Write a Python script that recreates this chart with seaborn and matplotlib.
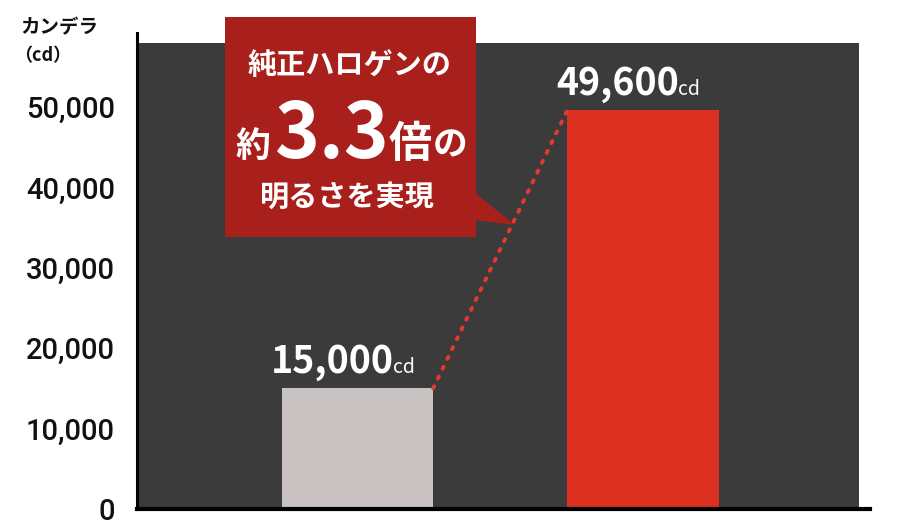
import matplotlib
matplotlib.use("Agg")
import matplotlib.pyplot as plt
import seaborn as sns
from matplotlib.patches import Rectangle, Polygon
from matplotlib.ticker import FuncFormatter

# data
categories = ["純正ハロゲン", "LED"]
candela = [15000, 49600]
value_labels = ["15,000", "49,600"]
yticks = [0, 10000, 20000, 30000, 40000, 50000]

DARK = "#3b3b3b"
GRAY = "#c9c2c2"
RED = "#dc3020"
BOX_RED = "#a81f1b"
JP = ["Noto Sans CJK JP", "DejaVu Sans"]

sns.set_theme(style="white")
plt.rcParams["font.family"] = JP

W, H = 900, 525
fig = plt.figure(figsize=(W / 100, H / 100), dpi=100)
ax = fig.add_axes([137 / W, 1 - 509 / H, (870 - 137) / W, (509 - 33) / H])
ax.set_facecolor("white")

# dark panel behind the bars
ax.axhspan(0, 58000, xmin=0, xmax=(859 - 137) / (870 - 137), color=DARK, zorder=0, lw=0)

bw = 0.53
sns.barplot(x=categories, y=candela, hue=categories, palette=[GRAY, RED],
            width=bw, saturation=1, legend=False, ax=ax, zorder=2, linewidth=0)
ax.set_xlim(-0.772, 1.795)
ax.set_ylim(0, 59200)

# dotted connector between bar tops
ax.plot([0 + bw / 2, 1 - bw / 2], candela, color="#e4392c", lw=2.8,
        linestyle=(0, (0.6, 2.2)), dash_capstyle="round", zorder=3)

ax.set_yticks(yticks)
ax.yaxis.set_major_formatter(FuncFormatter(lambda v, p: f"{int(v):,}"))
ax.tick_params(axis="y", length=0, pad=16, labelsize=21, labelcolor="#111111")
for t in ax.get_yticklabels():
    t.set_fontfamily(["Roboto", "DejaVu Sans"])
    t.set_fontweight("medium")
ax.set_xticks([])
ax.set_xlabel("")
for s in ["top", "right"]:
    ax.spines[s].set_visible(False)
ax.spines["left"].set_color("black")
ax.spines["left"].set_linewidth(2.2)
ax.spines["bottom"].set_color("black")
ax.spines["bottom"].set_linewidth(3)

# value labels
for i, (v, lab) in enumerate(zip(candela, value_labels)):
    ax.annotate(lab, xy=(i, v), xytext=(26, 11), textcoords="offset points",
                ha="right", va="baseline", color="white", fontsize=27,
                fontweight="bold", zorder=4)
    ax.annotate("cd", xy=(i, v), xytext=(25.5, 11), textcoords="offset points",
                ha="left", va="baseline", color="white", fontsize=14, zorder=4)

# unit label
fig.text(20 / W, 1 - 28 / H, "カンデラ", ha="left", va="center", fontsize=14,
         fontweight="bold", color="#111111")
fig.text(14 / W, 1 - 56 / H, "（cd）", ha="left", va="center", fontsize=13,
         fontweight="bold", color="#111111")

# callout box
def fx(px):
    return px / W

def fy(py):
    return 1 - py / H

fig.patches.append(Rectangle((fx(225), fy(237)), fx(476) - fx(225), fy(17) - fy(237),
                             transform=fig.transFigure, color=BOX_RED, lw=0, zorder=5))
fig.patches.append(Polygon([(fx(474), fy(192)), (fx(515), fy(225)), (fx(474), fy(220))],
                           closed=True, transform=fig.transFigure, color=BOX_RED, lw=0, zorder=5))

fig.text(fx(349), fy(65), "純正ハロゲンの", ha="center", va="center", fontsize=21,
         fontweight="bold", color="white", zorder=6)
fig.text(fx(253), fy(157), "約", ha="center", va="baseline", fontsize=25,
         fontweight="bold", color="white", zorder=6)
fig.text(fx(331), fy(158), "3.3", ha="center", va="baseline", fontsize=55,
         fontweight="bold", color="white", zorder=6)
fig.text(fx(410), fy(157), "倍", ha="center", va="baseline", fontsize=31,
         fontweight="bold", color="white", zorder=6)
fig.text(fx(450), fy(155), "の", ha="center", va="baseline", fontsize=25,
         fontweight="bold", color="white", zorder=6)
fig.text(fx(347), fy(197), "明るさを実現", ha="center", va="center", fontsize=21,
         fontweight="bold", color="white", zorder=6)

fig.savefig("out.png", dpi=100, facecolor="white")
